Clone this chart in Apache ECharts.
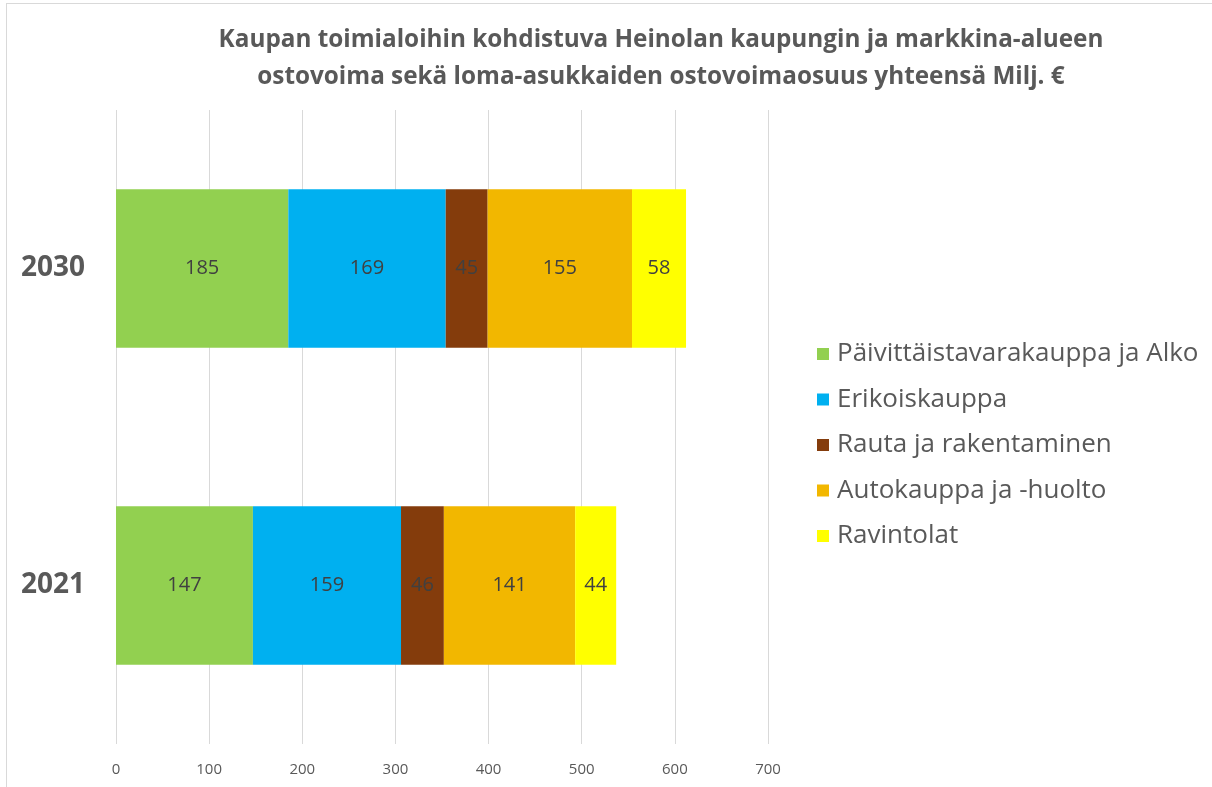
<!DOCTYPE html>
<html>
<head>
<meta charset="utf-8">
<title>Heinola ostovoima</title>
<script src="https://cdn.jsdelivr.net/npm/echarts@6/dist/echarts.min.js"></script>
<style>
    html, body { margin: 0; padding: 0; background: #fff; }
    #wrap { position: relative; width: 1212px; height: 787px; overflow: hidden; }
    #frame { position: absolute; left: 6px; top: 3px; width: 1240px; height: 820px; border: 1px solid #d9d9d9; box-sizing: border-box; }
    #chartBar { position: absolute; left: 0; top: 0; width: 1212px; height: 787px; }
</style>
</head>
<body>
<div id="wrap">
    <div id="frame"></div>
    <div id="chartBar"></div>
</div>
<script>
// 数据
var years = ['2021', '2030'];
var seriesNames = ['Päivittäistavarakauppa ja Alko', 'Erikoiskauppa', 'Rauta ja rakentaminen', 'Autokauppa ja -huolto', 'Ravintolat'];
var paivittaistavara = [147, 185];
var erikoiskauppa = [159, 169];
var rauta = [46, 45];
var autokauppa = [141, 155];
var ravintolat = [44, 58];
var xTicks = [0, 100, 200, 300, 400, 500, 600, 700];
var colors = ['#92D050', '#00B0F0', '#843C0C', '#F2B700', '#FFFF00'];

var font = '"Open Sans", "Noto Sans", sans-serif';
var valueArrs = [paivittaistavara, erikoiskauppa, rauta, autokauppa, ravintolat];

var chartSeriesData = [];
for (var i = 0; i < seriesNames.length; i++) {
    chartSeriesData.push({
        name: seriesNames[i],
        type: 'bar',
        stack: 'total',
        barCategoryGap: '50%',
        data: valueArrs[i],
        itemStyle: { color: colors[i] },
        label: {
            show: true,
            position: 'inside',
            color: '#404040',
            fontSize: 20,
            fontFamily: font
        }
    });
}

var myChart = echarts.init(document.getElementById('chartBar'), null, { renderer: 'canvas' });
var option = {
    animation: false,
    color: colors,
    title: {
        text: 'Kaupan toimialoihin kohdistuva Heinolan kaupungin ja markkina-alueen\nostovoima sekä loma-asukkaiden ostovoimaosuus yhteensä Milj. €',
        left: 656,
        top: 17,
        textAlign: 'center',
        textStyle: {
            color: '#595959',
            fontSize: 24.3,
            fontWeight: 'bold',
            fontFamily: font,
            lineHeight: 37
        }
    },
    legend: {
        orient: 'vertical',
        left: 812,
        top: 336,
        itemWidth: 12,
        itemHeight: 12,
        itemGap: 19.5,
        icon: 'rect',
        data: seriesNames,
        textStyle: { color: '#595959', fontSize: 26, lineHeight: 26, fontFamily: font, padding: [0, 0, 0, 3] }
    },
    grid: { left: 116, right: 444, top: 110, bottom: 43, containLabel: false },
    xAxis: {
        type: 'value',
        min: xTicks[0],
        max: xTicks[xTicks.length - 1],
        interval: 100,
        axisLine: { show: false },
        axisTick: { show: false },
        splitLine: { lineStyle: { color: '#d9d9d9', width: 1 } },
        axisLabel: { color: '#595959', fontSize: 15, fontFamily: font, margin: 18 }
    },
    yAxis: {
        type: 'category',
        data: years,
        axisLine: { show: false },
        axisTick: { show: false },
        axisLabel: { color: '#595959', fontSize: 28, fontWeight: 'bold', fontFamily: font, margin: 31 }
    },
    series: chartSeriesData
};
myChart.setOption(option);
window.addEventListener('resize', myChart.resize);
</script>
</body>
</html>
